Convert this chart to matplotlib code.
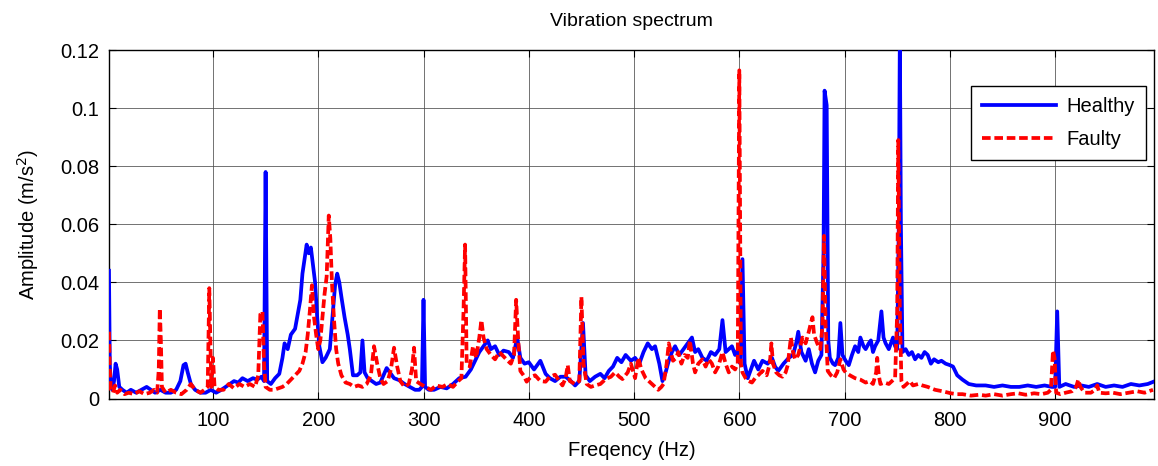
import numpy as np
import matplotlib
matplotlib.use('Agg')
import matplotlib.pyplot as plt

plt.rcParams['font.family'] = ['Liberation Sans', 'DejaVu Sans']

# healthy spectrum (blue)
healthy_f = [1.2, 2, 3, 4.5, 6, 7.5, 9, 11, 14, 18, 22, 27, 32, 37, 41, 45, 50, 55, 60, 65,
             69, 72, 74, 76, 79, 83, 88, 93, 98, 103, 108, 112, 116, 120, 124, 128, 133, 138, 142, 146,
             148.5, 150, 151.5, 155, 159, 163, 166, 168, 171, 174, 178, 181, 183, 185, 187, 189, 191, 193, 195, 197,
             199, 201, 204, 207, 211, 214, 216, 218, 220, 222, 225, 228, 230, 233, 237, 240, 242, 244, 247, 251,
             255, 259, 262, 265, 268, 272, 277, 282, 287, 292, 296, 298.5, 300, 301.5, 305, 310, 316, 322, 328, 334,
             340, 345, 349, 353, 357, 361, 364, 368, 372, 376, 381, 385, 389, 392, 396, 400, 405, 411, 416, 420,
             425, 430, 435, 440, 444, 448, 451.5, 454, 458, 463, 468, 472, 476, 480, 484, 488, 492, 497, 501, 505,
             509, 513, 517, 520, 524, 527, 530, 533, 536, 539, 543, 547, 551, 555, 558, 561, 565, 569, 573, 577,
             581, 584, 587, 590, 593, 596, 599, 601, 603, 605, 608, 611, 614, 618, 622, 627, 631, 634, 637, 642,
             647, 651, 654, 656, 659, 663, 666, 669, 672, 675, 678, 680, 681, 683, 684.5, 686, 689, 691, 694, 696,
             698, 701, 704, 707, 710, 713, 715, 718, 720, 723, 725, 727, 729, 732, 735, 737, 739, 742, 744, 746,
             748, 750, 751.5, 752.5, 753.5, 755, 758, 761, 764, 767, 770, 773, 776, 779, 782, 785, 789, 792, 796, 800,
             803, 807, 812, 818, 825, 834, 842, 850, 858, 866, 874, 882, 890, 897, 900, 902, 904, 910, 918, 925,
             932, 940, 948, 956, 964, 972, 980, 988, 995]
healthy_a = [0.044, 0.012, 0.004, 0.003, 0.006, 0.012, 0.010, 0.004, 0.003, 0.002, 0.003, 0.002, 0.003, 0.004, 0.003, 0.002, 0.003, 0.002, 0.002, 0.003,
             0.006, 0.0115, 0.012, 0.009, 0.005, 0.003, 0.002, 0.002, 0.003, 0.002, 0.003, 0.004, 0.005, 0.006, 0.0055, 0.007, 0.006, 0.007, 0.0065, 0.0075,
             0.006, 0.078, 0.006, 0.005, 0.007, 0.0085, 0.014, 0.019, 0.017, 0.022, 0.024, 0.030, 0.034, 0.043, 0.048, 0.053, 0.050, 0.052, 0.046, 0.040,
             0.028, 0.018, 0.0125, 0.014, 0.017, 0.030, 0.039, 0.043, 0.040, 0.035, 0.028, 0.022, 0.017, 0.008, 0.008, 0.009, 0.020, 0.009, 0.007, 0.006,
             0.005, 0.0055, 0.008, 0.0105, 0.009, 0.007, 0.0063, 0.005, 0.004, 0.003, 0.003, 0.004, 0.034, 0.004, 0.003, 0.003, 0.004, 0.0035, 0.005, 0.007,
             0.0075, 0.010, 0.013, 0.016, 0.018, 0.020, 0.017, 0.018, 0.015, 0.0165, 0.016, 0.014, 0.021, 0.014, 0.012, 0.0125, 0.010, 0.013, 0.0085, 0.007,
             0.006, 0.0075, 0.0075, 0.006, 0.0045, 0.006, 0.026, 0.008, 0.006, 0.0075, 0.0085, 0.007, 0.0095, 0.011, 0.014, 0.0125, 0.015, 0.013, 0.014, 0.012,
             0.016, 0.019, 0.017, 0.018, 0.012, 0.006, 0.009, 0.013, 0.016, 0.018, 0.015, 0.017, 0.019, 0.021, 0.016, 0.017, 0.014, 0.013, 0.016, 0.015,
             0.017, 0.027, 0.016, 0.017, 0.018, 0.015, 0.017, 0.012, 0.048, 0.012, 0.007, 0.010, 0.013, 0.010, 0.013, 0.012, 0.014, 0.011, 0.0095, 0.012,
             0.014, 0.015, 0.019, 0.023, 0.016, 0.013, 0.017, 0.012, 0.009, 0.013, 0.015, 0.050, 0.106, 0.101, 0.020, 0.014, 0.012, 0.0115, 0.014, 0.026,
             0.015, 0.013, 0.0115, 0.015, 0.018, 0.016, 0.021, 0.018, 0.017, 0.019, 0.020, 0.016, 0.018, 0.020, 0.030, 0.021, 0.019, 0.017, 0.019, 0.021,
             0.018, 0.017, 0.060, 0.125, 0.060, 0.016, 0.017, 0.015, 0.016, 0.0135, 0.015, 0.014, 0.016, 0.015, 0.012, 0.0135, 0.0125, 0.013, 0.012, 0.0115,
             0.011, 0.008, 0.0065, 0.005, 0.0045, 0.0045, 0.004, 0.0045, 0.004, 0.004, 0.0045, 0.004, 0.0045, 0.004, 0.004, 0.030, 0.004, 0.005, 0.004, 0.0045,
             0.004, 0.005, 0.004, 0.0045, 0.004, 0.005, 0.0045, 0.005, 0.006]

# faulty spectrum (red dashed)
faulty_f = [1.2, 2, 3, 5, 7, 9, 12, 16, 20, 25, 30, 35, 40, 44, 47, 48.5, 49.5, 50.5, 51.5, 55,
            60, 65, 70, 75, 79, 83, 88, 92, 95, 96.5, 97.5, 98.5, 100, 101.5, 105, 110, 115, 120, 125, 130,
            135, 140, 143, 145, 147, 148.5, 150, 154, 158, 162, 166, 170, 174, 178, 182, 185, 188, 190, 192, 194,
            196, 198, 200, 202, 204, 206, 208, 210, 211.5, 213, 215, 217, 219, 222, 226, 230, 234, 238, 242, 246,
            250, 253, 256, 259, 262, 266, 269, 272, 275, 278, 282, 286, 289, 291, 293, 297, 302, 307, 312, 318,
            323, 328, 333, 336, 338, 339.5, 341, 344, 347, 350, 353, 355, 357, 360, 364, 368, 372, 376, 380, 383,
            386, 388, 390, 392, 395, 398, 402, 406, 411, 416, 420, 425, 429, 432, 435, 437, 439, 444, 448, 450,
            452, 455, 459, 463, 468, 473, 478, 482, 486, 489, 494, 497, 501, 504, 507, 511, 514, 517, 520, 523,
            526, 528, 531, 533, 535, 537, 540, 542, 545, 548, 551, 553, 556, 558, 561, 565, 568, 571, 574, 577,
            580, 584, 587, 590, 593, 596, 598.5, 600, 601.5, 603, 606, 609, 612, 615, 618, 622, 626, 629, 630.5, 632,
            635, 638, 641, 644, 646, 649, 651, 653, 656, 658, 660, 663, 666, 668, 669.5, 671, 674, 677, 679, 680.5,
            682, 684, 687, 690, 693, 696, 699, 701, 705, 710, 715, 720, 724, 727, 730, 731, 732.5, 734, 738, 742,
            745, 748, 750, 751, 752.5, 754, 756, 759, 762, 765, 770, 774, 779, 786, 793, 801, 807, 812, 820, 828,
            834, 842, 850, 858, 865, 872, 880, 887, 893, 896, 898, 899.5, 901, 905, 910, 916, 920, 922, 924, 928,
            934, 938, 940, 942, 948, 955, 962, 970, 978, 985, 993]
faulty_a = [0.023, 0.010, 0.003, 0.002, 0.0045, 0.002, 0.003, 0.0015, 0.002, 0.0015, 0.0025, 0.0015, 0.002, 0.003, 0.002, 0.010, 0.031, 0.020, 0.004, 0.002,
            0.003, 0.002, 0.0015, 0.003, 0.005, 0.003, 0.002, 0.003, 0.004, 0.038, 0.020, 0.004, 0.014, 0.004, 0.003, 0.003, 0.005, 0.0035, 0.005, 0.004,
            0.005, 0.004, 0.008, 0.029, 0.030, 0.012, 0.004, 0.003, 0.003, 0.0035, 0.004, 0.005, 0.0065, 0.008, 0.0095, 0.012, 0.016, 0.022, 0.030, 0.039,
            0.028, 0.022, 0.017, 0.020, 0.028, 0.036, 0.042, 0.063, 0.055, 0.040, 0.027, 0.017, 0.012, 0.008, 0.0055, 0.005, 0.004, 0.0045, 0.004, 0.005,
            0.008, 0.018, 0.012, 0.007, 0.005, 0.006, 0.010, 0.0175, 0.011, 0.006, 0.004, 0.005, 0.010, 0.0175, 0.006, 0.005, 0.004, 0.003, 0.0045, 0.004,
            0.005, 0.004, 0.006, 0.007, 0.030, 0.053, 0.012, 0.011, 0.018, 0.014, 0.021, 0.027, 0.021, 0.017, 0.015, 0.0135, 0.016, 0.0145, 0.013, 0.012,
            0.015, 0.034, 0.020, 0.0095, 0.008, 0.0058, 0.0075, 0.008, 0.006, 0.0058, 0.0075, 0.0082, 0.006, 0.0045, 0.007, 0.0115, 0.006, 0.005, 0.006, 0.035,
            0.012, 0.005, 0.004, 0.0045, 0.005, 0.0067, 0.0075, 0.009, 0.0075, 0.0067, 0.009, 0.012, 0.007, 0.014, 0.010, 0.007, 0.006, 0.005, 0.004, 0.003,
            0.004, 0.005, 0.012, 0.019, 0.016, 0.013, 0.014, 0.016, 0.012, 0.015, 0.014, 0.020, 0.012, 0.009, 0.012, 0.0135, 0.011, 0.0135, 0.012, 0.009,
            0.011, 0.016, 0.012, 0.009, 0.011, 0.010, 0.012, 0.113, 0.012, 0.009, 0.007, 0.006, 0.0055, 0.007, 0.008, 0.0095, 0.008, 0.012, 0.019, 0.012,
            0.009, 0.008, 0.0075, 0.009, 0.0115, 0.021, 0.016, 0.0135, 0.015, 0.018, 0.021, 0.019, 0.023, 0.026, 0.028, 0.022, 0.019, 0.017, 0.025, 0.056,
            0.025, 0.0095, 0.008, 0.007, 0.009, 0.0135, 0.010, 0.009, 0.008, 0.007, 0.0065, 0.0055, 0.006, 0.005, 0.009, 0.014, 0.008, 0.005, 0.0055, 0.005,
            0.006, 0.007, 0.030, 0.089, 0.030, 0.006, 0.004, 0.005, 0.006, 0.0045, 0.005, 0.0045, 0.004, 0.003, 0.0025, 0.0018, 0.0015, 0.0015, 0.001, 0.0013,
            0.001, 0.0015, 0.001, 0.0015, 0.0018, 0.0013, 0.0018, 0.0015, 0.002, 0.003, 0.0165, 0.014, 0.002, 0.0015, 0.002, 0.0025, 0.004, 0.0065, 0.004, 0.002,
            0.002, 0.003, 0.0045, 0.002, 0.0018, 0.002, 0.0015, 0.002, 0.0025, 0.002, 0.003]

yticks = [0, 0.02, 0.04, 0.06, 0.08, 0.1, 0.12]
xticks = [100, 200, 300, 400, 500, 600, 700, 800, 900]

fig = plt.figure(figsize=(11.58, 4.66), dpi=100)
ax = fig.add_axes([0.0941, 0.1448, 0.9025, 0.7479])

ax.plot(healthy_f, healthy_a, color='#0000ff', lw=2.7, label='Healthy', zorder=3)
ax.plot(faulty_f, faulty_a, color='#ff0000', lw=2.7, ls='--', dashes=(2.3, 1.0), label='Faulty', zorder=4)

ax.set_xlim(1.2, 994)
ax.set_ylim(0, 0.12)
ax.set_xticks(xticks)
ax.set_yticks(yticks)
ax.set_yticklabels(['%g' % v for v in yticks])

ax.grid(True, color='0.3', lw=0.7, ls='-', alpha=0.8)
ax.set_axisbelow(True)
ax.tick_params(direction='in', length=5, width=0.8, top=True, right=True, labelsize=14.5)
ax.tick_params(axis='x', pad=9)
ax.tick_params(axis='y', pad=7)
for s in ax.spines.values():
    s.set_linewidth(1.0)

ax.set_title('Vibration spectrum', fontsize=14, pad=17)
ax.set_xlabel('Freqency (Hz)', fontsize=14.5, labelpad=8)
ax.set_ylabel('Amplitude (m/s$^2$)', fontsize=14.5, labelpad=14)

leg = ax.legend(loc='upper right', bbox_to_anchor=(0.992, 0.897), borderaxespad=0,
                fontsize=14.5, handlelength=3.7, handletextpad=0.5, labelspacing=0.7,
                borderpad=0.55, fancybox=False, framealpha=1, edgecolor='black')
leg.get_frame().set_linewidth(1.0)

plt.savefig('out.png', dpi=100)
